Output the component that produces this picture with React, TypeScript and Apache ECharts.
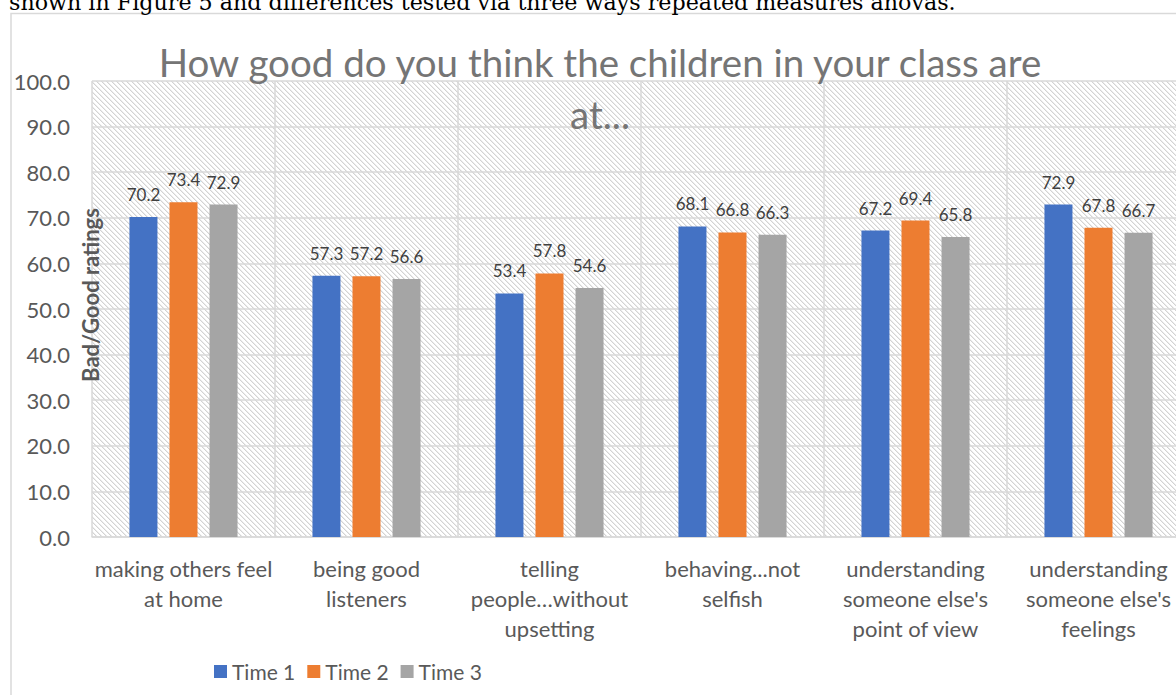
import React, { useEffect, useRef } from 'react';
import * as echarts from 'echarts';

const categories = [
  'making others feel\nat home',
  'being good\nlisteners',
  'telling\npeople…without\nupsetting',
  'behaving...not\nselfish',
  "understanding\nsomeone else's\npoint of view",
  "understanding\nsomeone else's\nfeelings",
];
const seriesNames = ['Time 1', 'Time 2', 'Time 3'];
const time1 = [70.2, 57.3, 53.4, 68.1, 67.2, 72.9];
const time2 = [73.4, 57.2, 57.8, 66.8, 69.4, 67.8];
const time3 = [72.9, 56.6, 54.6, 66.3, 65.8, 66.7];
const colors = ['#4472c4', '#ed7d31', '#a5a5a5'];
const yMin = 0;
const yMax = 100;
const yInterval = 10;

const titleText = 'How good do you think the children in your class are\nat...';
const yAxisTitle = 'Bad/Good ratings';
const docText = 'shown in Figure 5 and differences tested via three ways repeated measures anovas.';

const FONT = 'Lato, "Open Sans", sans-serif';

function makeHatch() {
  const n = 5;
  const c = document.createElement('canvas');
  c.width = n;
  c.height = n;
  const ctx = c.getContext('2d')!;
  ctx.fillStyle = '#ffffff';
  ctx.fillRect(0, 0, n, n);
  for (let i = 0; i < n; i++) {
    ctx.fillStyle = '#d3d3d3';
    ctx.fillRect(i, i, 1, 1);
    ctx.fillStyle = '#ececec';
    ctx.fillRect((i + 1) % n, i, 1, 1);
  }
  return { image: c, repeat: 'repeat', imageWidth: n, imageHeight: n } as any;
}

export default function App() {
  const ref = useRef<HTMLDivElement>(null);
  useEffect(() => {
    if (!ref.current) return;
    const chart = echarts.init(ref.current, null, { renderer: 'svg' });
    const data = [time1, time2, time3];
    chart.setOption({
      animation: false,
      backgroundColor: '#ffffff',
      textStyle: { fontFamily: FONT },
      grid: {
        left: 92,
        top: 81,
        width: 1098,
        height: 456,
        show: true,
        backgroundColor: makeHatch(),
        borderWidth: 0,
        containLabel: false,
        outerBoundsMode: 'none',
      },
      legend: {
        data: seriesNames,
        left: 214,
        top: 661,
        padding: 0,
        icon: 'rect',
        itemWidth: 13,
        itemHeight: 13,
        itemGap: 12,
        textStyle: { fontFamily: FONT, fontSize: 21, color: '#595959' },
      },
      xAxis: {
        type: 'category',
        data: categories,
        axisLine: { lineStyle: { color: '#d9d9d9', width: 1.5 } },
        axisTick: { show: false },
        splitLine: { show: true, interval: 0, lineStyle: { color: '#d9d9d9', width: 1.5 } },
        axisLabel: {
          interval: 0,
          fontFamily: FONT,
          fontSize: 22,
          lineHeight: 30,
          color: '#595959',
          margin: 16,
        },
      },
      yAxis: {
        type: 'value',
        min: yMin,
        max: yMax,
        interval: yInterval,
        axisLine: { show: false },
        axisTick: { show: false },
        splitLine: { lineStyle: { color: '#d9d9d9', width: 1.5 } },
        axisLabel: {
          fontFamily: FONT,
          fontSize: 22,
          color: '#595959',
          margin: 22,
          formatter: (v: number) => v.toFixed(1),
        },
      },
      series: seriesNames.map((name, i) => ({
        name,
        type: 'bar',
        data: data[i],
        barWidth: 28,
        barGap: '43%',
        itemStyle: { color: colors[i] },
        label: {
          show: true,
          position: 'top',
          distance: 14,
          fontFamily: FONT,
          fontSize: 17,
          color: '#404040',
          formatter: (p: any) => Number(p.value).toFixed(1),
        },
      })),
      graphic: [
        {
          type: 'rect',
          z: -1,
          shape: { x: 11, y: 13.5, width: 1300, height: 800 },
          style: { fill: 'none', stroke: '#d9d9d9', lineWidth: 1.5 },
        },
        {
          type: 'text',
          x: 9,
          y: 13,
          style: {
            text: docText,
            fontFamily: '"DejaVu Serif", serif',
            fontSize: 22.2,
            fill: '#000000',
            align: 'left',
            verticalAlign: 'bottom',
          },
        },
        {
          type: 'text',
          x: 600,
          y: 88,
          z: 100,
          style: {
            text: titleText,
            fontFamily: FONT,
            fontSize: 38.5,
            lineHeight: 52,
            fill: '#757575',
            align: 'center',
            verticalAlign: 'middle',
          },
        },
        {
          type: 'text',
          x: 90,
          y: 295,
          rotation: Math.PI / 2,
          z: 100,
          style: {
            text: yAxisTitle,
            fontFamily: FONT,
            fontSize: 22,
            fontWeight: 'bold',
            fill: '#595959',
            align: 'center',
            verticalAlign: 'middle',
          },
        },
      ],
    });
    return () => chart.dispose();
  }, []);
  return (
    <div
      ref={ref}
      style={{ position: 'fixed', left: 0, top: 0, width: 1176, height: 695 }}
    />
  );
}
